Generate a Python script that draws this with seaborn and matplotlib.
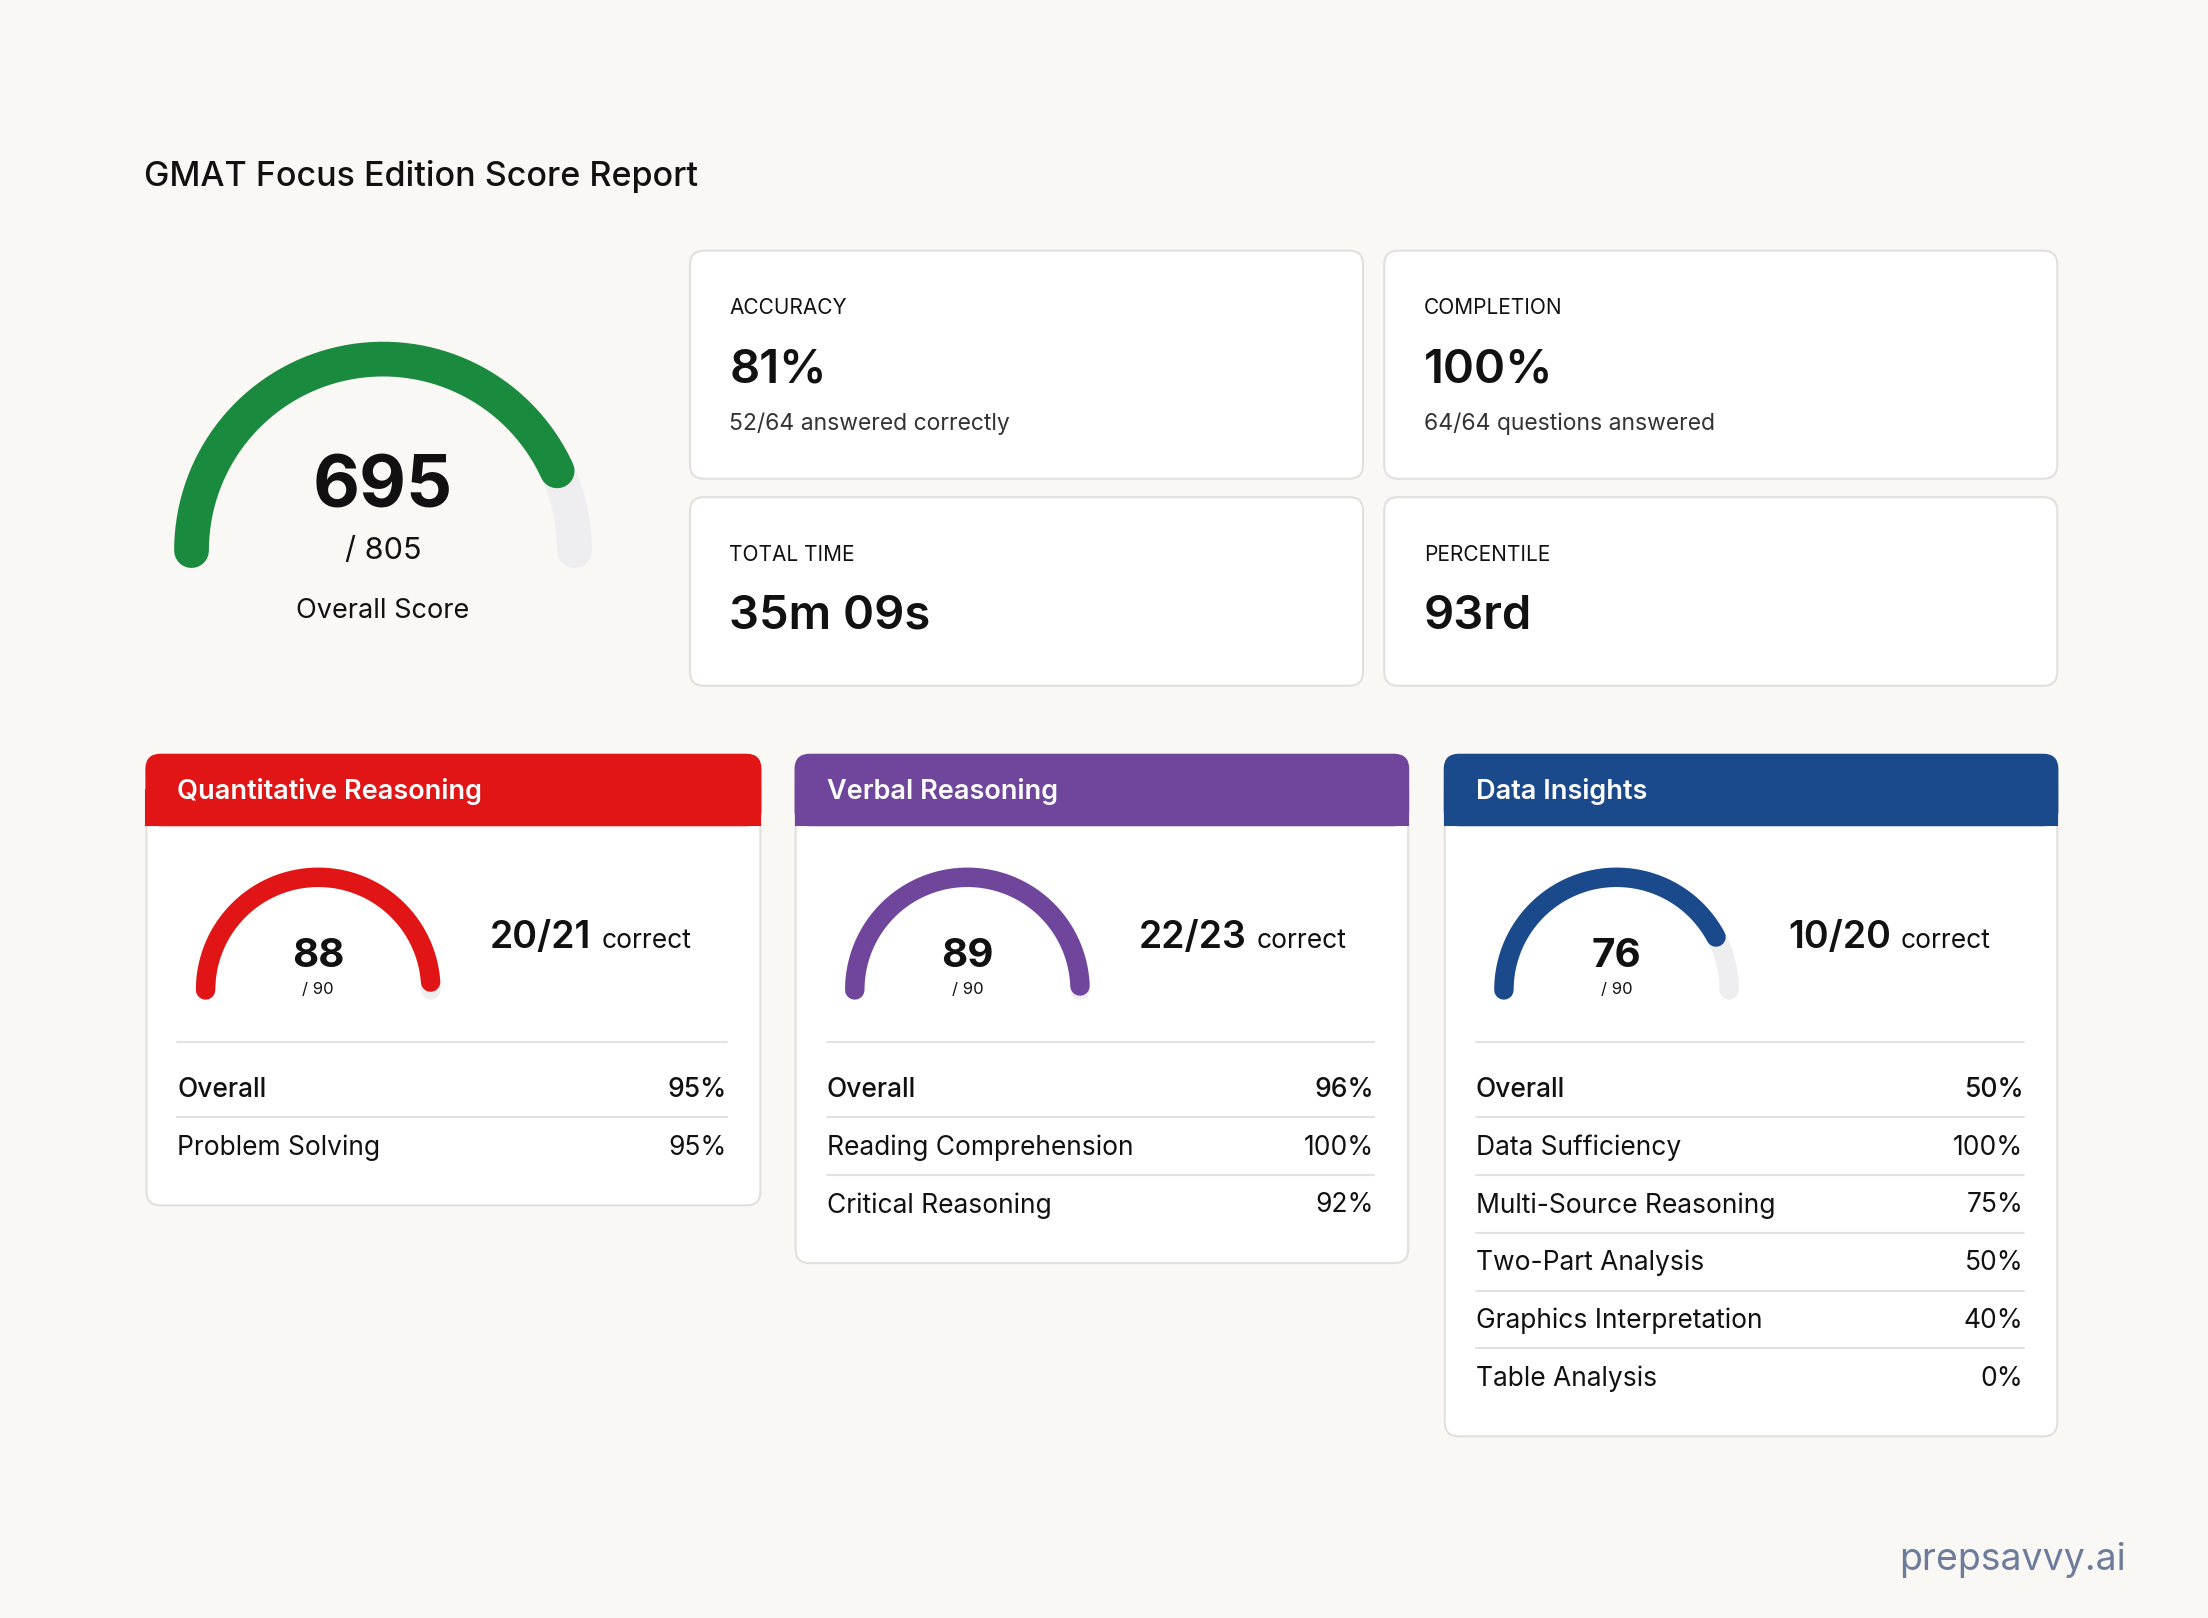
import numpy as np
import matplotlib.pyplot as plt
import seaborn as sns
from matplotlib.patches import FancyBboxPatch, Rectangle

sns.set_style("white")
plt.rcParams['font.family'] = ['Inter', 'DejaVu Sans']

BG = "#FAF8F5"
TRACK = "#EEEDF0"
TEXT = "#111111"

overall_score = 695
overall_max = 805

stat_labels = ["ACCURACY", "COMPLETION", "TOTAL TIME", "PERCENTILE"]
stat_values = ["81%", "100%", "35m 09s", "93rd"]
stat_notes = ["52/64 answered correctly", "64/64 questions answered", "", ""]

section_names = ["Quantitative Reasoning", "Verbal Reasoning", "Data Insights"]
section_colors = ["#E11515", "#6F469B", "#1B4A8C"]
section_scores = [88, 89, 76]
section_max = 90
section_correct = ["20/21", "22/23", "10/20"]
section_rows = [
    [("Overall", "95%"), ("Problem Solving", "95%")],
    [("Overall", "96%"), ("Reading Comprehension", "100%"), ("Critical Reasoning", "92%")],
    [("Overall", "50%"), ("Data Sufficiency", "100%"), ("Multi-Source Reasoning", "75%"),
     ("Two-Part Analysis", "50%"), ("Graphics Interpretation", "40%"), ("Table Analysis", "0%")],
]

fig = plt.figure(figsize=(22.08, 16.18), dpi=100)
fig.patch.set_facecolor(BG)
ax = fig.add_axes([0, 0, 1, 1])
ax.set_xlim(0, 1568)
ax.set_ylim(1149, 0)
ax.axis("off")
ax.set_facecolor(BG)


def card(x0, y0, x1, y1):
    ax.add_patch(FancyBboxPatch((x0, y0), x1 - x0, y1 - y0, boxstyle="round,pad=0,rounding_size=10",
                                fc="white", ec="#E2E0DC", lw=1.5, zorder=1))


def gauge(cx, cy, r, frac, color, lw):
    t = np.linspace(np.pi, 0, 200)
    ax.plot(cx + r * np.cos(t), cy - r * np.sin(t), color=TRACK, lw=lw, solid_capstyle="round", zorder=2)
    t2 = np.linspace(np.pi, np.pi * (1 - frac), 200)
    ax.plot(cx + r * np.cos(t2), cy - r * np.sin(t2), color=color, lw=lw, solid_capstyle="round", zorder=3)


ax.text(102, 125, "GMAT Focus Edition Score Report", fontsize=24.5, color=TEXT, va="center", fontweight="medium")

# overall gauge
gauge(272, 391, 136, overall_score / overall_max, "#1A8A3E", 25)
ax.text(272, 347, str(overall_score), fontsize=52, fontweight="bold", ha="center", va="center", color=TEXT)
ax.text(272, 391, f"/ {overall_max}", fontsize=22, ha="center", va="center", color=TEXT)
ax.text(272, 434, "Overall Score", fontsize=19.5, ha="center", va="center", color=TEXT)

# stat cards
boxes = [(490, 178, 968, 340), (983, 178, 1461, 340), (490, 353, 968, 487), (983, 353, 1461, 487)]
for (x0, y0, x1, y1), lab, val, note in zip(boxes, stat_labels, stat_values, stat_notes):
    card(x0, y0, x1, y1)
    ax.text(x0 + 28, y0 + 41, lab, fontsize=15, va="center", color=TEXT)
    ax.text(x0 + 28, y0 + 85, val, fontsize=34, fontweight="semibold", va="center", color=TEXT)
    if note:
        ax.text(x0 + 28, y0 + 123, note, fontsize=16.5, va="center", color="#333333")

# section cards
sec_x = [(104, 540), (565, 1000), (1026, 1461)]
for (x0, x1), name, col, sc, corr, rows in zip(sec_x, section_names, section_colors,
                                                section_scores, section_correct, section_rows):
    y0 = 536
    y1 = 740 + 41 * len(rows) + 34
    card(x0, y0, x1, y1)
    ax.add_patch(FancyBboxPatch((x0, y0), x1 - x0, 50, boxstyle="round,pad=0,rounding_size=10",
                                fc=col, ec=col, lw=1.5, zorder=2))
    ax.add_patch(Rectangle((x0, y0 + 25), x1 - x0, 25, fc=col, ec=col, lw=1.5, zorder=2))
    ax.text(x0 + 22, 562, name, fontsize=19.5, color="white", fontweight="semibold", va="center", zorder=3)
    gx = x0 + 122
    gauge(gx, 703, 80, sc / section_max, col, 14)
    ax.text(gx, 679, str(sc), fontsize=29, fontweight="bold", ha="center", va="center", color=TEXT)
    ax.text(gx, 703, f"/ {section_max}", fontsize=12, ha="center", va="center", color=TEXT)
    t = ax.text(x0 + 244, 666, corr, fontsize=27, fontweight="semibold", va="center", color=TEXT)
    fig.canvas.draw()
    bb = t.get_window_extent().transformed(ax.transData.inverted())
    ax.text(bb.x1 + 7, 668, "correct", fontsize=19, va="center", color=TEXT)
    ax.plot([x0 + 22, x1 - 24], [740, 740], color="#E4E2DE", lw=1.5, zorder=2)
    for i, (lab, val) in enumerate(rows):
        y = 774 + 41 * i
        w = "medium" if i == 0 else "normal"
        ax.text(x0 + 22, y, lab, fontsize=19, va="center", color=TEXT, fontweight=w)
        ax.text(x1 - 24, y, val, fontsize=19, va="center", ha="right", color=TEXT, fontweight=w)
        if i < len(rows) - 1:
            ax.plot([x0 + 22, x1 - 24], [y + 19.5, y + 19.5], color="#E4E2DE", lw=1.5, zorder=2)

ax.text(1510, 1108, "prepsavvy.ai", fontsize=27, ha="right", va="center", color="#6E7C9C")

fig.savefig("out.png", dpi=100, facecolor=BG)
